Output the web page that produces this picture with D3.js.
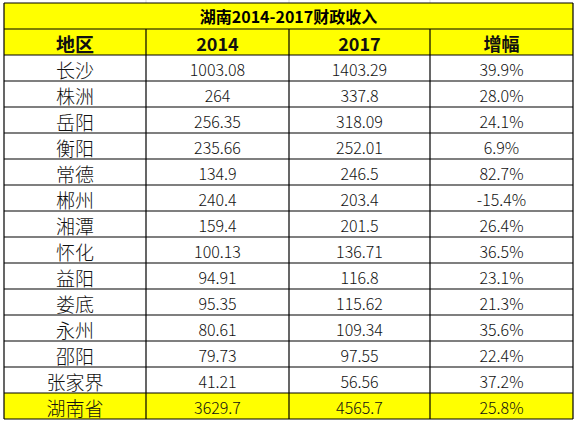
<!DOCTYPE html>
<html><head><meta charset="utf-8">
<script src="https://cdn.jsdelivr.net/npm/d3@7"></script>
<style>body{margin:0;background:#fff}</style></head>
<body><svg id="c" width="575" height="422"></svg>
<script>
const title = "湖南2014-2017财政收入";
const headers = ["地区","2014","2017","增幅"];
const regions = ["长沙","株洲","岳阳","衡阳","常德","郴州","湘潭","怀化","益阳","娄底","永州","邵阳","张家界","湖南省"];
const v2014 = ["1003.08","264","256.35","235.66","134.9","240.4","159.4","100.13","94.91","95.35","80.61","79.73","41.21","3629.7"];
const v2017 = ["1403.29","337.8","318.09","252.01","246.5","203.4","201.5","136.71","116.8","115.62","109.34","97.55","56.56","4565.7"];
const growth = ["39.9%","28.0%","24.1%","6.9%","82.7%","-15.4%","26.4%","36.5%","23.1%","21.3%","35.6%","22.4%","37.2%","25.8%"];

const svg = d3.select("#c");
const colEdges = [4,146,289,430,573];
const nRows = 2 + regions.length;
const y = d3.scaleLinear().domain([0,nRows]).range([3,419]);
const font = "'Noto Sans CJK SC','Noto Sans',sans-serif";
// faint spreadsheet gridlines above
[146,289,430].forEach(x=>svg.append("line").attr("x1",x).attr("x2",x).attr("y1",0).attr("y2",3).attr("stroke","#ddd"));
const rows = [];
rows.push({cells:[title], title:true, fill:"#ffff00"});
rows.push({cells:headers, bold:true, fill:"#ffff00"});
regions.forEach((r,i)=>rows.push({cells:[r,v2014[i],v2017[i],growth[i]], fill: i===regions.length-1?"#ffff00":"#fff"}));
rows.forEach((row,i)=>{
  const y0=y(i), y1=y(i+1), cy=(y0+y1)/2;
  if(row.title){
    svg.append("rect").attr("x",colEdges[0]).attr("y",y0).attr("width",colEdges[4]-colEdges[0]).attr("height",y1-y0).attr("fill",row.fill);
    svg.append("text").attr("x",(colEdges[0]+colEdges[4])/2).attr("y",cy).attr("text-anchor","middle").attr("dominant-baseline","central")
      .attr("font-family",font).attr("font-weight","bold").attr("font-size",16).text(row.cells[0]);
  } else {
    row.cells.forEach((t,j)=>{
      svg.append("rect").attr("x",colEdges[j]).attr("y",y0).attr("width",colEdges[j+1]-colEdges[j]).attr("height",y1-y0).attr("fill",row.fill);
      svg.append("text").attr("x",(colEdges[j]+colEdges[j+1])/2).attr("y",cy+1).attr("text-anchor","middle").attr("dominant-baseline","central")
        .attr("font-family",font).attr("font-weight",row.bold?"bold":"300").attr("font-size", j===0?19:(row.bold?18:16))
        .attr("fill","#111").text(t);
    });
  }
});
// grid lines
for(let i=0;i<=nRows;i++) svg.append("line").attr("x1",colEdges[0]).attr("x2",colEdges[4]).attr("y1",y(i)).attr("y2",y(i)).attr("stroke","#000").attr("stroke-width",1.2);
colEdges.forEach((x,j)=>svg.append("line").attr("x1",x).attr("x2",x).attr("y1",j===0||j===4?y(0):y(1)).attr("y2",y(nRows)).attr("stroke","#000").attr("stroke-width",1.2));
</script></body></html>
